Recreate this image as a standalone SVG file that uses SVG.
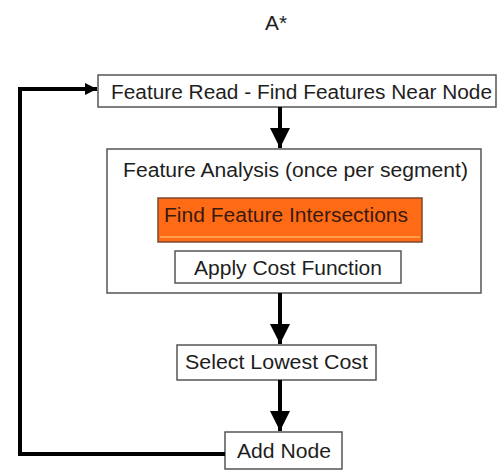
<svg xmlns="http://www.w3.org/2000/svg" width="498" height="470" viewBox="0 0 498 470">
<style>
text{font-family:"Liberation Sans",Arial,sans-serif;font-size:20px;fill:#1e1e1e;text-anchor:middle}
.box{fill:#fff;stroke:#555;stroke-width:1.5}
.conn{fill:none;stroke:#000;stroke-width:4}
</style>
<defs>
<marker id="ah" viewBox="0 0 10 10" refX="10" refY="5" markerWidth="5.5" markerHeight="5" markerUnits="strokeWidth" orient="auto">
<path d="M0,0 L10,5 L0,10 z" fill="#000"/>
</marker>
<marker id="ah2" viewBox="0 0 10 10" refX="10" refY="5" markerWidth="3" markerHeight="3.2" markerUnits="strokeWidth" orient="auto">
<path d="M0,0 L10,5 L0,10 z" fill="#000"/>
</marker>
</defs>
<text x="276" y="30" textLength="22" lengthAdjust="spacingAndGlyphs">A*</text>
<g id="n-read">
<rect class="box" x="98" y="75" width="398" height="32"/>
<text x="301.5" y="99" textLength="381" lengthAdjust="spacingAndGlyphs">Feature Read - Find Features Near Node</text>
</g>
<g id="n-analysis">
<rect class="box" x="107" y="149" width="374" height="144"/>
<text x="295.5" y="177" textLength="345" lengthAdjust="spacingAndGlyphs">Feature Analysis (once per segment)</text>
</g>
<g id="n-intersect">
<rect x="158" y="198" width="264" height="44" fill="#ff6a14" stroke="#7a4a30" stroke-width="1.5"/>
<line x1="160" y1="237" x2="420" y2="237" stroke="#ffb060" stroke-width="1.5"/>
<text x="286" y="222" textLength="244" lengthAdjust="spacingAndGlyphs" style="fill:#3a1a10">Find Feature Intersections</text>
</g>
<g id="n-cost">
<rect class="box" x="175" y="251" width="226" height="32"/>
<text x="288" y="275" textLength="188" lengthAdjust="spacingAndGlyphs">Apply Cost Function</text>
</g>
<g id="n-select">
<rect class="box" x="177" y="345" width="199" height="35"/>
<text x="276.5" y="369" textLength="183" lengthAdjust="spacingAndGlyphs">Select Lowest Cost</text>
</g>
<g id="n-add">
<rect class="box" x="225" y="432" width="117" height="37"/>
<text x="284" y="458" textLength="94" lengthAdjust="spacingAndGlyphs">Add Node</text>
</g>
<g id="connectors">
<path class="conn" d="M280,107 V148" marker-end="url(#ah)"/>
<path class="conn" d="M280,293 V344" marker-end="url(#ah)"/>
<path class="conn" d="M280,380 V431" marker-end="url(#ah)"/>
<path class="conn" d="M225,454 H20 V89 H97" marker-end="url(#ah2)"/>
</g>
</svg>
